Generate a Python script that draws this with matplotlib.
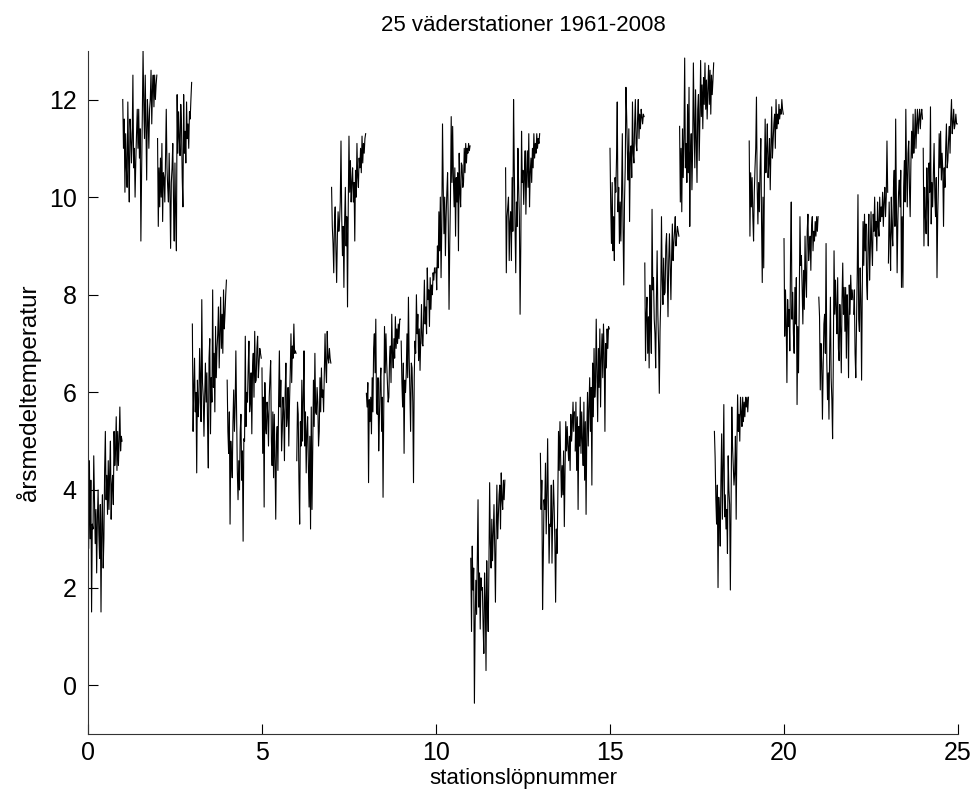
import numpy as np
import matplotlib
matplotlib.use("Agg")
import matplotlib.pyplot as plt

plt.rcParams['font.family'] = ['Liberation Sans', 'DejaVu Sans']

title = "25 väderstationer 1961-2008"
xlabel = "stationslöpnummer"
ylabel = "årsmedeltemperatur"
years_per_station = 48  # 1961-2008
xticks = [0, 5, 10, 15, 20, 25]
yticks = [0, 2, 4, 6, 8, 10, 12]

s00 = [4.5, 2.8, 4.6, 3.0, 4.2, 1.5, 3.3, 3.2, 4.7, 3.8, 2.9, 3.6, 2.3, 3.4, 4.0, 3.1, 2.6, 3.7, 1.5, 3.3, 3.9, 2.4, 3.0, 4.4, 5.2, 3.8, 4.3, 3.5, 4.6, 3.6, 4.4, 5.0, 3.4, 4.1, 4.3, 3.7, 5.2, 4.5, 4.8, 5.5, 4.4, 5.2, 4.5, 5.0, 5.7, 4.8, 5.1, 5.0]
s01 = [12.0, 11.0, 11.6, 10.1, 11.3, 10.6, 10.2, 11.95, 10.8, 9.9, 11.6, 11.3, 10.7, 11.2, 12.5, 10.6, 11.0, 10.0, 10.75, 11.3, 11.8, 11.0, 11.8, 10.8, 11.4, 9.1, 10.5, 11.7, 13.0, 11.9, 11.2, 12.5, 11.4, 10.35, 12.0, 11.6, 11.0, 11.8, 12.0, 12.6, 11.5, 12.2, 12.5, 11.85, 12.5, 12.0, 12.3, 12.5]
s02 = [11.2, 9.4, 10.6, 9.8, 10.8, 10.0, 11.1, 9.5, 10.5, 10.4, 9.9, 10.8, 11.8, 10.6, 10.2, 9.9, 10.9, 10.1, 8.95, 10.3, 10.6, 11.1, 9.9, 9.1, 10.7, 9.6, 8.9, 12.1, 10.9, 11.75, 11.2, 10.85, 11.9, 11.5, 10.4, 9.8, 12.1, 10.9, 11.35, 10.7, 11.95, 11.2, 11.5, 11.0, 11.75, 11.6, 12.0, 12.35]
s03 = [7.4, 5.2, 6.1, 6.7, 5.6, 6.0, 4.35, 6.25, 5.5, 5.8, 6.9, 6.3, 5.4, 7.9, 6.2, 5.9, 5.1, 5.9, 6.6, 5.8, 6.4, 5.3, 4.45, 6.7, 7.1, 5.15, 6.3, 5.8, 8.1, 6.1, 6.8, 5.6, 7.35, 6.3, 6.9, 7.2, 7.75, 6.5, 7.2, 7.95, 6.9, 7.6, 6.8, 8.1, 7.3, 7.6, 8.0, 8.3]
s04 = [6.25, 5.2, 4.75, 5.6, 3.3, 5.0, 4.6, 4.25, 5.4, 6.05, 5.2, 5.7, 6.85, 5.6, 4.4, 3.8, 4.6, 4.0, 5.2, 5.55, 4.2, 4.8, 2.95, 5.05, 5.0, 7.15, 5.3, 6.0, 5.8, 6.5, 7.05, 5.6, 5.8, 6.4, 5.15, 6.5, 6.8, 5.9, 7.25, 6.2, 6.25, 6.9, 7.15, 6.3, 6.6, 6.9, 6.8, 6.7]
s05 = [6.5, 4.75, 5.9, 3.65, 6.2, 5.3, 5.15, 5.8, 5.55, 4.9, 5.9, 6.3, 6.65, 5.0, 4.5, 5.6, 4.25, 5.55, 4.6, 3.4, 5.0, 5.3, 4.4, 5.9, 6.85, 5.7, 6.25, 4.8, 5.2, 5.9, 5.6, 4.6, 6.0, 6.6, 5.3, 5.5, 6.1, 4.9, 5.8, 6.4, 7.2, 6.2, 6.95, 6.7, 7.4, 6.8, 6.85, 6.8]
s06 = [4.6, 5.8, 5.55, 4.2, 3.3, 5.4, 4.9, 6.25, 5.0, 5.9, 6.85, 4.9, 5.6, 4.35, 5.2, 5.5, 4.5, 3.65, 5.1, 3.2, 5.7, 3.6, 4.8, 6.25, 5.3, 6.8, 5.6, 5.55, 6.1, 5.8, 4.9, 5.2, 6.3, 5.6, 6.5, 5.9, 6.05, 5.6, 6.4, 7.2, 6.5, 6.2, 7.25, 6.7, 6.6, 6.9, 6.7, 6.6]
s07 = [10.2, 9.4, 9.05, 8.45, 9.5, 9.8, 8.9, 8.25, 9.2, 9.7, 9.3, 9.5, 9.9, 11.15, 9.6, 8.8, 9.4, 8.15, 9.5, 10.2, 9.0, 9.6, 7.75, 9.8, 11.25, 10.1, 10.75, 9.9, 10.3, 10.6, 9.9, 10.3, 9.1, 10.55, 10.0, 11.1, 10.4, 10.2, 10.8, 10.6, 11.0, 10.5, 11.25, 10.7, 11.1, 10.9, 11.2, 11.3]
s08 = [5.98, 5.7, 6.2, 4.15, 5.85, 5.4, 5.9, 5.15, 6.3, 5.6, 6.9, 7.2, 6.4, 7.5, 5.6, 5.55, 6.3, 4.8, 5.5, 6.2, 6.5, 5.2, 5.9, 3.85, 5.7, 7.35, 6.4, 7.2, 6.6, 6.2, 5.8, 5.9, 6.7, 6.95, 6.2, 7.6, 6.8, 6.5, 7.1, 6.7, 7.55, 6.9, 7.3, 7.0, 7.4, 7.1, 7.5, 7.5]
s09 = [7.05, 6.2, 5.7, 6.6, 4.75, 6.25, 6.0, 6.4, 7.2, 6.3, 7.95, 6.7, 6.0, 5.2, 6.6, 6.5, 5.8, 4.15, 6.3, 7.05, 6.8, 8.0, 7.2, 7.6, 6.65, 7.3, 6.45, 7.1, 7.8, 7.0, 6.95, 7.6, 8.3, 7.4, 7.75, 7.2, 8.55, 7.9, 8.1, 7.35, 8.35, 7.7, 8.2, 8.0, 8.45, 8.3, 8.55, 8.45]
s10 = [8.55, 8.1, 9.0, 8.55, 9.7, 8.9, 10.0, 8.35, 9.4, 11.5, 10.2, 9.25, 10.0, 8.8, 9.6, 10.1, 10.5, 9.4, 7.7, 9.05, 10.0, 11.65, 10.3, 11.45, 10.4, 9.8, 10.6, 9.2, 10.4, 9.9, 10.5, 8.9, 10.9, 10.1, 9.8, 10.7, 10.65, 10.2, 10.3, 11.0, 10.5, 11.1, 10.7, 11.0, 10.9, 11.1, 10.95, 11.05]
s11 = [2.6, 1.1, 2.85, 1.95, 2.4, -0.37, 1.3, 2.15, 1.45, 2.6, 3.8, 1.6, 2.3, 1.15, 2.2, 1.95, 2.0, 1.2, 0.65, 2.3, 1.8, 0.3, 2.55, 1.6, 1.1, 2.4, 4.15, 2.9, 2.4, 3.4, 2.55, 3.1, 3.7, 2.8, 1.7, 3.2, 4.1, 3.0, 3.45, 3.9, 4.1, 3.2, 4.35, 3.8, 3.6, 4.2, 3.8, 4.2]
s12 = [10.6, 8.45, 9.6, 9.8, 10.0, 8.7, 9.5, 9.7, 8.7, 10.4, 9.3, 12.0, 10.6, 9.4, 8.45, 9.9, 9.4, 11.0, 10.2, 9.6, 7.6, 9.05, 11.35, 10.3, 10.55, 9.85, 10.4, 10.95, 9.65, 10.5, 10.95, 10.2, 11.3, 9.8, 10.5, 10.8, 10.3, 11.0, 10.6, 11.3, 10.8, 11.1, 10.9, 11.3, 11.0, 11.2, 11.1, 11.3]
s13 = [4.75, 3.6, 4.2, 1.55, 2.6, 3.8, 3.6, 4.55, 3.1, 3.9, 5.05, 3.6, 2.5, 3.3, 3.25, 4.1, 2.5, 3.5, 4.2, 3.65, 2.9, 1.7, 3.2, 2.7, 3.8, 5.2, 4.4, 5.4, 4.6, 3.85, 4.5, 3.9, 4.8, 3.25, 4.4, 5.4, 4.8, 5.3, 4.9, 4.6, 5.1, 4.4, 5.55, 5.0, 5.3, 5.8, 5.2, 5.6]
s14 = [4.8, 5.8, 4.4, 5.5, 3.6, 5.3, 4.9, 5.9, 4.75, 5.6, 5.0, 4.5, 5.8, 4.2, 5.4, 3.5, 5.15, 6.0, 4.9, 5.7, 6.3, 5.2, 6.1, 4.1, 6.6, 5.5, 6.9, 5.9, 6.2, 7.5, 6.4, 5.4, 6.9, 6.1, 7.3, 5.7, 6.7, 7.2, 6.3, 7.4, 6.8, 5.2, 7.0, 6.5, 7.3, 6.9, 7.35, 7.3]
s15 = [11.0, 9.8, 9.05, 10.3, 8.9, 9.6, 8.7, 10.4, 10.1, 10.8, 11.95, 9.7, 10.2, 9.05, 9.9, 9.1, 10.1, 11.3, 9.4, 8.2, 9.9, 10.6, 12.25, 11.65, 10.9, 10.35, 11.4, 9.5, 10.9, 11.05, 10.4, 11.95, 10.9, 10.7, 11.5, 12.0, 11.1, 10.95, 11.6, 12.0, 11.2, 11.7, 11.4, 11.8, 11.65, 11.5, 11.7, 11.65]
s16 = [8.65, 6.65, 7.6, 7.95, 6.8, 7.55, 6.5, 8.2, 7.4, 6.8, 9.75, 8.1, 8.35, 7.5, 7.2, 6.5, 7.9, 8.9, 7.6, 7.0, 5.98, 7.25, 7.9, 9.6, 8.3, 7.8, 8.75, 8.0, 8.05, 9.0, 9.25, 8.4, 7.55, 8.7, 9.25, 8.6, 7.9, 8.8, 9.45, 8.7, 9.05, 9.3, 9.6, 9.0, 9.2, 9.4, 9.3, 9.2]
s17 = [11.45, 9.9, 11.0, 9.7, 11.4, 10.4, 11.2, 12.85, 10.6, 11.1, 10.3, 11.9, 10.5, 12.25, 9.4, 10.9, 11.3, 10.15, 11.0, 12.75, 11.5, 10.6, 12.2, 11.15, 10.3, 11.8, 12.1, 10.75, 11.6, 12.8, 11.65, 12.3, 11.4, 12.45, 11.9, 12.75, 11.8, 12.4, 11.6, 12.2, 12.7, 11.9, 12.6, 11.7, 12.5, 12.1, 12.4, 12.75]
s18 = [5.2, 4.67, 3.8, 3.3, 4.1, 2.0, 3.85, 3.5, 2.85, 4.2, 5.15, 3.4, 4.5, 5.75, 3.45, 3.9, 3.2, 3.6, 2.7, 4.7, 4.0, 3.7, 1.95, 3.7, 5.7, 4.9, 4.5, 4.1, 4.35, 5.1, 3.4, 4.9, 5.95, 5.2, 5.55, 5.0, 5.9, 5.6, 5.3, 5.9, 5.4, 5.8, 5.5, 5.9, 5.7, 5.9, 5.6, 5.9]
s19 = [11.15, 9.2, 10.5, 9.8, 10.4, 9.6, 9.1, 10.1, 10.6, 11.0, 12.05, 10.2, 9.45, 10.3, 9.7, 10.6, 11.2, 9.5, 8.25, 10.0, 8.55, 10.4, 11.6, 10.5, 10.95, 11.5, 10.4, 10.7, 11.2, 10.15, 11.0, 11.85, 10.8, 11.15, 11.5, 11.7, 11.0, 12.0, 11.4, 11.7, 11.5, 11.9, 11.6, 11.8, 11.7, 12.0, 11.8, 11.7]
s20 = [9.15, 7.15, 8.1, 7.5, 6.2, 7.9, 7.35, 7.7, 6.85, 8.8, 9.9, 7.5, 8.05, 7.2, 6.8, 8.15, 7.4, 8.35, 5.75, 7.35, 6.4, 7.8, 9.6, 8.6, 8.8, 8.15, 7.4, 8.5, 7.7, 9.2, 8.3, 7.95, 9.3, 9.65, 8.7, 9.0, 9.2, 8.5, 9.4, 9.6, 8.9, 9.3, 9.1, 9.5, 9.2, 9.6, 9.3, 9.6]
s21 = [7.95, 7.55, 6.05, 7.0, 6.6, 5.45, 6.5, 7.4, 7.6, 6.8, 9.05, 6.65, 5.85, 6.4, 5.45, 6.9, 7.95, 6.3, 5.85, 5.05, 6.65, 8.9, 7.6, 8.3, 7.7, 7.2, 8.35, 6.9, 6.65, 7.8, 7.3, 6.4, 7.9, 8.65, 7.6, 8.15, 7.25, 8.15, 6.7, 8.0, 7.5, 6.3, 8.2, 7.6, 8.4, 7.9, 8.1, 7.9]
s22 = [7.6, 8.1, 6.8, 6.3, 7.4, 8.45, 10.05, 7.5, 7.25, 8.55, 7.9, 6.25, 8.2, 9.5, 8.6, 9.65, 8.9, 9.45, 8.2, 7.9, 9.2, 9.65, 8.3, 8.9, 9.7, 9.0, 8.6, 9.65, 9.3, 10.0, 9.2, 9.5, 8.9, 9.9, 9.4, 9.2, 10.0, 9.5, 9.8, 9.6, 10.1, 9.4, 9.9, 10.2, 9.6, 10.0, 11.15, 10.1]
s23 = [8.65, 9.9, 9.2, 8.5, 10.0, 9.3, 9.0, 10.2, 10.55, 9.4, 11.6, 9.9, 8.45, 9.5, 10.1, 10.35, 9.8, 10.55, 8.15, 9.6, 8.15, 10.2, 10.75, 9.9, 11.8, 10.5, 9.8, 10.9, 11.15, 10.2, 9.6, 10.7, 11.35, 10.8, 11.7, 10.9, 11.2, 11.8, 11.0, 11.5, 11.8, 11.3, 11.6, 11.8, 11.4, 11.7, 11.8, 11.6]
s24 = [11.0, 9.0, 10.2, 9.6, 9.25, 10.6, 9.9, 9.0, 10.7, 10.1, 11.85, 9.45, 10.3, 9.8, 10.5, 11.1, 10.0, 9.6, 10.4, 8.35, 9.65, 10.3, 11.3, 10.6, 11.35, 10.35, 10.9, 10.55, 9.4, 10.6, 10.2, 11.0, 11.5, 10.6, 10.75, 11.2, 11.45, 10.9, 11.6, 12.0, 11.3, 11.5, 11.8, 11.4, 11.5, 11.7, 11.5, 11.5]

stations = [s00, s01, s02, s03, s04, s05, s06, s07, s08, s09, s10, s11, s12,
            s13, s14, s15, s16, s17, s18, s19, s20, s21, s22, s23, s24]

fig = plt.figure(figsize=(9.74, 8.05), dpi=100)
ax = fig.add_axes([0.0903, 0.0882, 0.8933, 0.8488])

for i, vals in enumerate(stations):
    x = i + np.arange(len(vals)) / years_per_station
    ax.plot(x, vals, color='black', lw=0.8)

ax.set_xlim(0, 25)
ax.set_ylim(-1, 13)
ax.set_xticks(xticks)
ax.set_yticks(yticks)
ax.spines['top'].set_visible(False)
ax.spines['right'].set_visible(False)
for sp in ('left', 'bottom'):
    ax.spines[sp].set_linewidth(0.8)
    ax.spines[sp].set_color('#333333')
ax.tick_params(direction='in', length=7, width=0.8, labelsize=18)
ax.tick_params(axis='x', pad=5)
ax.tick_params(axis='y', pad=8)
ax.set_title(title, fontsize=16, pad=14)
ax.set_xlabel(xlabel, fontsize=16, labelpad=2)
ax.set_ylabel(ylabel, fontsize=17.5, labelpad=6)

fig.savefig('out.png', dpi=100)
